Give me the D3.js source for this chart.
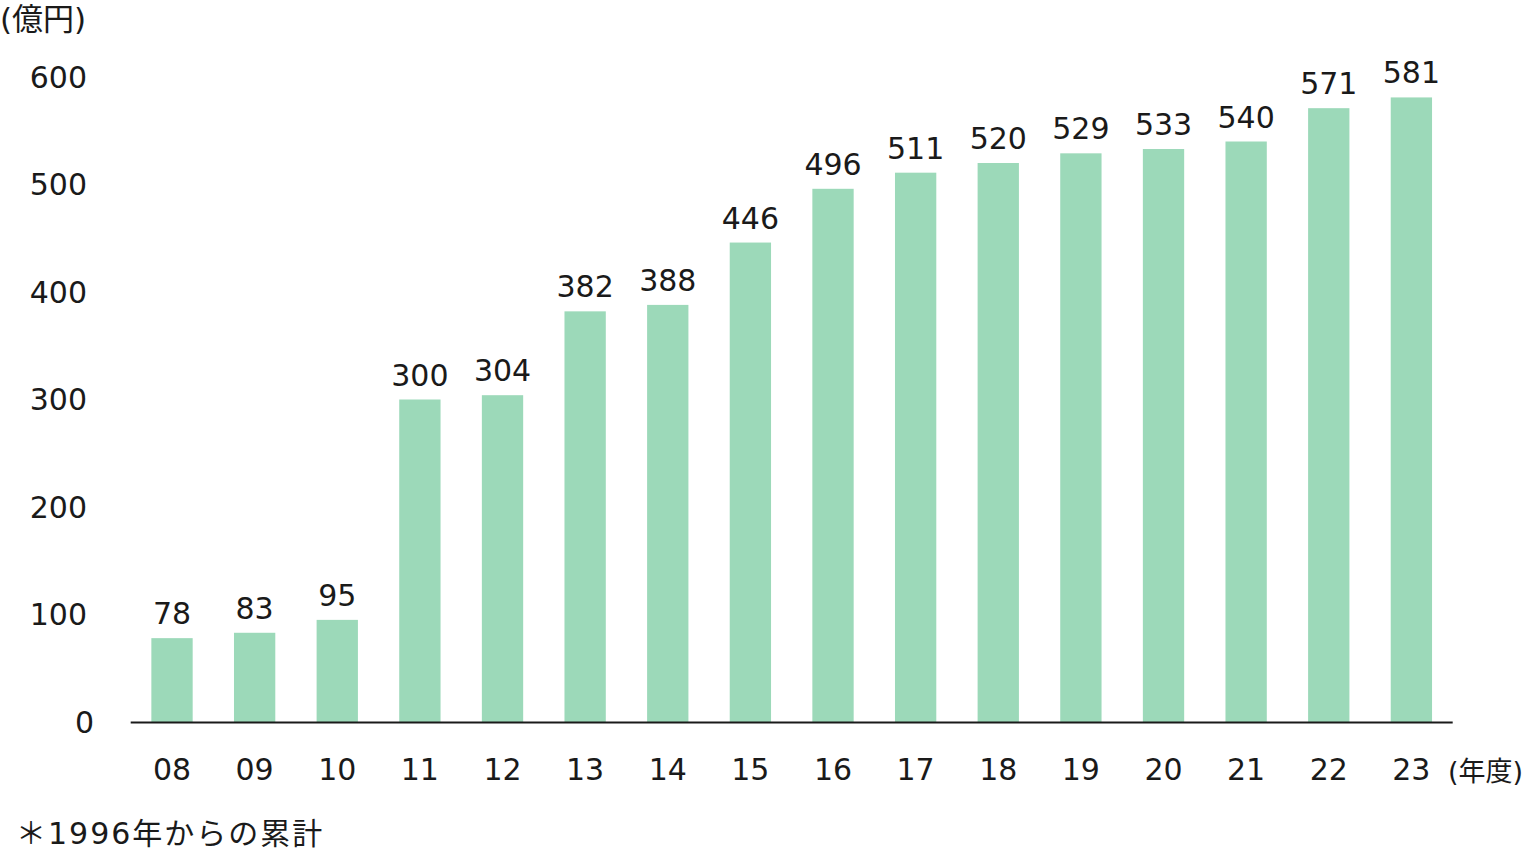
<!DOCTYPE html>
<html><head><meta charset="utf-8">
<script src="https://cdn.jsdelivr.net/npm/d3@7"></script>
<style>
html,body{margin:0;padding:0;background:#fff;}
text{font-family:"DejaVu Sans","Noto Sans CJK JP",sans-serif;fill:#1a1a1a;}
</style></head>
<body>
<svg id="c" width="1525" height="850"></svg>
<script>
const years = ["08","09","10","11","12","13","14","15","16","17","18","19","20","21","22","23"];
const values = [78,83,95,300,304,382,388,446,496,511,520,529,533,540,571,581];
const yTicks = [0,100,200,300,400,500,600];
const unitLabel = "(億円)";
const xUnitLabel = "(年度)";
const note = "＊1996年からの累計";

const svg = d3.select("#c");
const x = d3.scaleBand().domain(years).range([130.7,1452.7]).paddingInner(0.5).paddingOuter(0.25);
const y = d3.scaleLinear().domain([0,600]).range([722,77]);

svg.append("g").selectAll("rect").data(values).join("rect")
  .attr("x",(d,i)=>x(years[i])).attr("width",x.bandwidth())
  .attr("y",d=>y(d)).attr("height",d=>y(0)-y(d)).attr("fill","#9cd9b9");

svg.append("line").attr("x1",130.7).attr("x2",1452.7).attr("y1",722.5).attr("y2",722.5)
  .attr("stroke","#1a1a1a").attr("stroke-width",2);

svg.append("g").selectAll("text").data(values).join("text")
  .attr("x",(d,i)=>x(years[i])+x.bandwidth()/2).attr("y",d=>y(d)-14)
  .attr("text-anchor","middle").attr("font-size",30).text(d=>d);

svg.append("g").selectAll("text").data(years).join("text")
  .attr("x",d=>x(d)+x.bandwidth()/2).attr("y",780)
  .attr("text-anchor","middle").attr("font-size",30).text(d=>d);

svg.append("g").selectAll("text").data(yTicks).join("text")
  .attr("x",d=>d===0?94:87).attr("y",d=>y(d)).attr("dy","0.36em")
  .attr("text-anchor","end").attr("font-size",30).text(d=>d);

svg.append("text").attr("x",0).attr("y",30).attr("font-size",31).text(unitLabel);
svg.append("text").attr("x",1448).attr("y",781).attr("font-size",27).text(xUnitLabel);
svg.append("text").attr("x",16).attr("y",844).attr("font-size",30).attr("letter-spacing",2).text(note);
</script>
</body></html>
